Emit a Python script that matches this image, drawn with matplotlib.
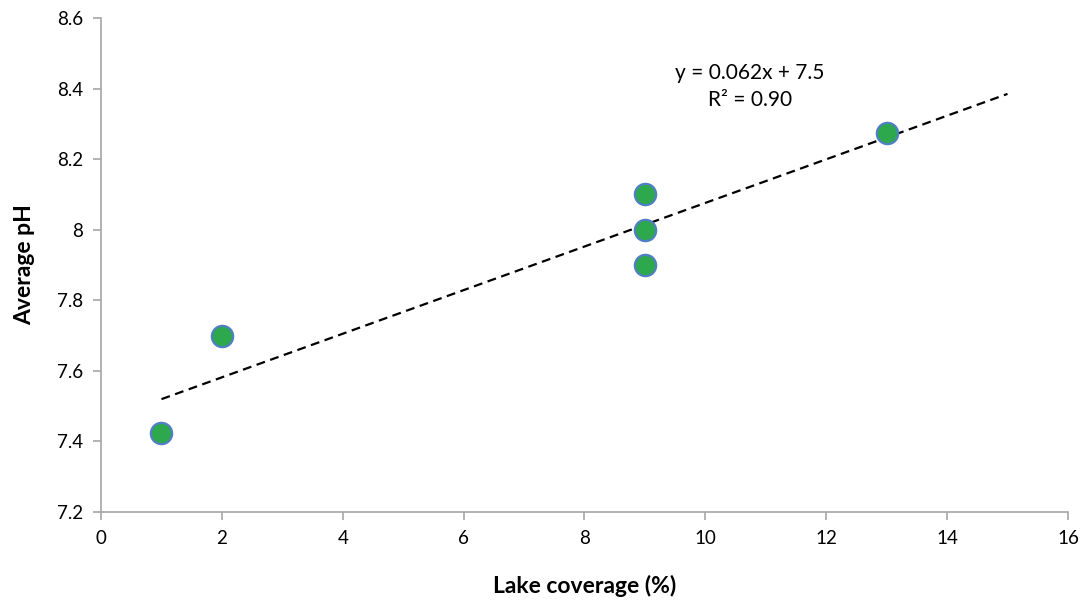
import numpy as np
import matplotlib.pyplot as plt
from matplotlib.ticker import FuncFormatter

plt.rcParams['font.family'] = ['Lato', 'DejaVu Sans']

# data
lake_cov = [1, 2, 9, 9, 9, 13]
avg_ph = [7.425, 7.70, 8.10, 8.00, 7.90, 8.275]

# linear trendline as drawn (endpoints)
trend_x = [1, 15]
trend_y = [7.52, 8.385]
eq_text = 'y = 0.062x + 7.5\nR² = 0.90'

fig = plt.figure(figsize=(10.83, 6.01), dpi=100)
ax = fig.add_axes([0.0933, 0.148, 0.8928, 0.822])

ax.plot(trend_x, trend_y, ls=(0, (4, 2.5)), color='black', lw=1.6, zorder=2)
ax.scatter(lake_cov, avg_ph, s=235, color='#2ea84c', edgecolors='#4f7fc4',
           linewidths=1.6, zorder=3)

ax.set_xlim(0, 16)
ax.set_ylim(7.2, 8.6)
ax.set_xticks(np.arange(0, 17, 2))
ax.set_yticks(np.arange(7.2, 8.61, 0.2))
ax.yaxis.set_major_formatter(FuncFormatter(lambda v, p: '%g' % round(v, 1)))

for s in ['top', 'right']:
    ax.spines[s].set_visible(False)
for s in ['left', 'bottom']:
    ax.spines[s].set_color('#a6a6a6')
    ax.spines[s].set_linewidth(1.2)
ax.tick_params(direction='out', length=6, width=1.2, color='#a6a6a6',
               labelsize=13.5, labelcolor='black', pad=7)

ax.set_xlabel('Lake coverage (%)', fontsize=16.5, fontweight='bold', labelpad=20)
ax.set_ylabel('Average pH', fontsize=16.5, fontweight='bold', labelpad=16)

ax.text(10.74, 8.407, eq_text, ha='center', va='center', fontsize=15,
        linespacing=1.45)

fig.savefig('out.png', dpi=100)
